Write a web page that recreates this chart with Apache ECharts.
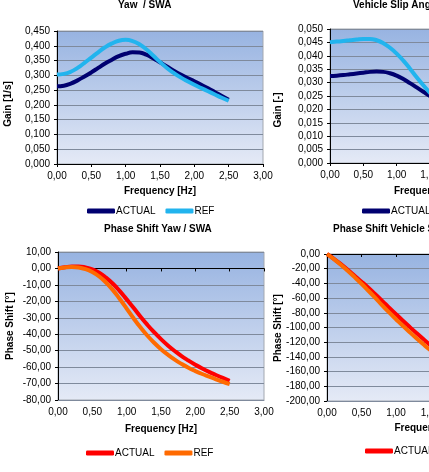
<!DOCTYPE html>
<html>
<head>
<meta charset="utf-8">
<script src="https://cdn.jsdelivr.net/npm/echarts@6/dist/echarts.min.js"></script>
<style>
  html, body { margin: 0; padding: 0; background: #fff; overflow: hidden; width: 429px; height: 472px; }
  .chart { position: absolute; width: 300px; }
</style>
</head>
<body>
<div id="yawGain" class="chart" style="left:0;top:0;height:220px"></div>
<div id="slipGain" class="chart" style="left:250px;top:0;height:220px"></div>
<div id="yawPhase" class="chart" style="left:0;top:220px;height:252px"></div>
<div id="slipPhase" class="chart" style="left:250px;top:220px;height:252px"></div>
<script>
// frequency points [Hz]
const freq = [0.0, 0.1, 0.2, 0.3, 0.4, 0.5, 0.6, 0.7, 0.8, 0.9, 1.0, 1.1, 1.2,
  1.3, 1.4, 1.5, 1.6, 1.7, 1.8, 1.9, 2.0, 2.1, 2.2, 2.3, 2.4, 2.5]

// Yaw / SWA gain [1/s]
const yawGainActual = [0.263, 0.265, 0.272, 0.283, 0.296, 0.310, 0.325, 0.340, 0.353, 0.365, 0.373, 0.378, 0.377,
  0.370, 0.358, 0.344, 0.330, 0.316, 0.303, 0.291, 0.280, 0.268, 0.256, 0.243, 0.230, 0.217]
const yawGainRef = [0.303, 0.305, 0.312, 0.325, 0.342, 0.360, 0.378, 0.395, 0.408, 0.417, 0.420, 0.416, 0.405,
  0.388, 0.367, 0.345, 0.325, 0.308, 0.293, 0.280, 0.268, 0.257, 0.246, 0.235, 0.224, 0.214]

// Vehicle slip angle / SWA gain [-]
const slipGainActual = [0.0325, 0.0326, 0.0328, 0.0331, 0.0334, 0.0337, 0.0340, 0.0341, 0.0340, 0.0335, 0.0326, 0.0313, 0.0298,
  0.0282, 0.0266, 0.0250, 0.0236, 0.0223, 0.0211, 0.0200, 0.0190, 0.0181, 0.0173, 0.0165, 0.0158, 0.0151]
const slipGainRef = [0.0451, 0.0453, 0.0455, 0.0458, 0.0461, 0.0463, 0.0463, 0.0458, 0.0447, 0.0430, 0.0408, 0.0382, 0.0352,
  0.0320, 0.0290, 0.0262, 0.0238, 0.0218, 0.0201, 0.0187, 0.0175, 0.0164, 0.0155, 0.0147, 0.0140, 0.0133]

// Phase shift yaw / SWA [deg]
const yawPhaseActual = [0, 0.7, 1.2, 1.2, 0.6, -0.6, -2.6, -5.6, -9.3, -13.8, -18.8, -23.9, -29.2,
  -34.2, -38.8, -43.0, -46.8, -50.2, -53.3, -56.0, -58.5, -60.8, -62.9, -64.8, -66.6, -68.3]
const yawPhaseRef = [0, 0.6, 0.9, 0.6, -0.4, -2.2, -4.9, -8.6, -13.2, -18.6, -24.4, -30.3, -35.8,
  -40.8, -45.2, -49.1, -52.5, -55.5, -58.1, -60.4, -62.4, -64.2, -65.8, -67.4, -68.9, -70.3]

// Phase shift vehicle slip angle / SWA [deg]
const slipPhaseActual = [0, -6.5, -13.8, -21.5, -29.5, -37.6, -46.0, -54.8, -63.8, -73.0, -82.0, -90.8, -99.4,
  -107.8, -116.0, -124.0, -131.5, -138.5, -145.0, -151.0, -156.5, -161.5, -166.0, -170.0, -173.5, -177.0]
const slipPhaseRef = [0, -7.0, -14.5, -22.8, -31.5, -40.5, -50.0, -59.8, -69.8, -79.5, -88.7, -97.8, -106.5,
  -115.0, -123.2, -131.0, -138.3, -145.0, -151.2, -156.8, -161.8, -166.3, -170.3, -173.8, -177.0, -180.0]

const FONT = "'Liberation Sans', Arial, sans-serif"
const GRID_LINE = '#7f8a9c'

function pairs(ys) {
  return freq.map((f, i) => [f, ys[i]])
}

function commaFmt(digits) {
  return function (v) {
    return Number(v).toFixed(digits).replace('.', ',')
  }
}

function makeChart(id, cfg) {
  let chart = echarts.init(document.getElementById(id))
  let xAxes = [
    {
      type: 'value',
      min: 0,
      max: 3,
      interval: 0.5,
      position: 'bottom',
      name: 'Frequency [Hz]',
      nameLocation: 'middle',
      nameGap: cfg.xNameGap,
      nameTextStyle: { fontFamily: FONT, fontSize: 10, fontWeight: 'bold', color: '#000' },
      axisLine: { onZero: false, lineStyle: { color: cfg.zeroAxis ? GRID_LINE : '#000', width: 1 } },
      axisTick: { show: !cfg.zeroAxis, length: 3, lineStyle: { color: '#000' } },
      axisLabel: { fontFamily: FONT, fontSize: 10, color: '#000', margin: 7, formatter: commaFmt(2) },
      splitLine: { show: false },
    },
  ]
  if (cfg.zeroAxis) {
    // Excel draws the category axis through zero, labels stay at the bottom
    xAxes.push({
      type: 'value',
      min: 0,
      max: 3,
      interval: 0.5,
      position: 'top',
      axisLine: { onZero: true, lineStyle: { color: '#000', width: 1 } },
      axisTick: { show: true, inside: true, length: 3, lineStyle: { color: '#000' } },
      axisLabel: { show: false },
      splitLine: { show: false },
    })
  }
  chart.setOption({
    animation: false,
    title: {
      text: cfg.title,
      left: cfg.titleLeft,
      top: cfg.titleTop,
      padding: 0,
      textStyle: { fontFamily: FONT, fontSize: 10, fontWeight: 'bold', color: '#000' },
    },
    legend: {
      left: cfg.legendLeft,
      top: cfg.legendTop,
      padding: 0,
      icon: 'roundRect',
      itemWidth: 28,
      itemHeight: 5,
      itemGap: 10,
      textStyle: { fontFamily: FONT, fontSize: 10, color: '#000', padding: [0, 0, 0, -4] },
      data: ['ACTUAL', 'REF'],
    },
    // y axis titles sit where Excel put them, not always centred on the plot
    graphic: [
      {
        type: 'text',
        x: cfg.yNamePos[0],
        y: cfg.yNamePos[1],
        rotation: Math.PI / 2,
        style: {
          text: cfg.yName,
          fontFamily: FONT,
          fontSize: 10,
          fontWeight: 'bold',
          fill: '#000',
          align: 'center',
          verticalAlign: 'middle',
        },
      },
    ],
    grid: {
      show: true,
      left: cfg.grid[0],
      top: cfg.grid[1],
      width: cfg.grid[2],
      height: cfg.grid[3],
      outerBoundsMode: 'none',
      containLabel: false,
      borderColor: '#a3a8b0',
      borderWidth: 1,
      backgroundColor: new echarts.graphic.LinearGradient(0, 0, 0, 1, [
        { offset: 0, color: '#97b3e1' },
        { offset: 1, color: '#e5eaf6' },
      ]),
    },
    xAxis: xAxes,
    yAxis: {
      type: 'value',
      min: cfg.yMin,
      max: cfg.yMax,
      interval: cfg.yStep,
      axisLine: { show: true, lineStyle: { color: '#000', width: 1 } },
      axisTick: { show: true, length: 3, lineStyle: { color: '#000' } },
      axisLabel: { fontFamily: FONT, fontSize: 10, color: '#000', margin: 7, formatter: commaFmt(cfg.yDigits) },
      splitLine: { show: true, lineStyle: { color: GRID_LINE, width: 1 } },
    },
    series: [
      {
        name: 'ACTUAL',
        type: 'line',
        smooth: true,
        showSymbol: false,
        color: cfg.colors[0],
        lineStyle: { width: 4, color: cfg.colors[0] },
        data: pairs(cfg.actual),
      },
      {
        name: 'REF',
        type: 'line',
        smooth: true,
        showSymbol: false,
        color: cfg.colors[1],
        lineStyle: { width: 4, color: cfg.colors[1] },
        data: pairs(cfg.ref),
      },
    ],
  })
  return chart
}

const gainColors = ['#000070', '#22b4ee']
const phaseColors = ['#ff0000', '#ff6a00']

makeChart('yawGain', {
  title: 'Yaw  / SWA', titleLeft: 118, titleTop: 0,
  legendLeft: 87, legendTop: 206,
  grid: [57, 31, 206, 133],
  yMin: 0, yMax: 0.45, yStep: 0.05, yDigits: 3,
  yName: 'Gain [1/s]', yNamePos: [8, 104], xNameGap: 22,
  colors: gainColors, actual: yawGainActual, ref: yawGainRef,
})

// right column is shifted 20px left so its y titles are not clipped
makeChart('slipGain', {
  title: 'Vehicle Slip Angle / SWA', titleLeft: 103, titleTop: 0,
  legendLeft: 112, legendTop: 206,
  grid: [80, 29, 200, 134],
  yMin: 0, yMax: 0.05, yStep: 0.005, yDigits: 3,
  yName: 'Gain [-]', yNamePos: [28, 110], xNameGap: 23,
  colors: gainColors, actual: slipGainActual, ref: slipGainRef,
})

makeChart('yawPhase', {
  title: 'Phase Shift Yaw / SWA', titleLeft: 104, titleTop: 4,
  legendLeft: 86, legendTop: 228,
  grid: [58, 32, 206, 148],
  yMin: -80, yMax: 10, yStep: 10, yDigits: 2, zeroAxis: true,
  yName: 'Phase Shift [°]', yNamePos: [10, 106], xNameGap: 24,
  colors: phaseColors, actual: yawPhaseActual, ref: yawPhaseRef,
})

makeChart('slipPhase', {
  title: 'Phase Shift Vehicle Slip Angle / SWA', titleLeft: 83, titleTop: 4,
  legendLeft: 115, legendTop: 226,
  grid: [77, 34, 207, 147],
  yMin: -200, yMax: 0, yStep: 20, yDigits: 2, zeroAxis: true,
  yName: 'Phase Shift [°]', yNamePos: [28, 108], xNameGap: 22,
  colors: phaseColors, actual: slipPhaseActual, ref: slipPhaseRef,
})
</script>
</body>
</html>
